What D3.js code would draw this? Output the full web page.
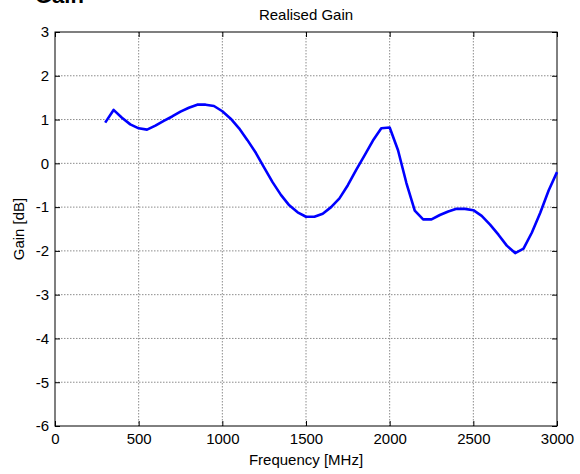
<!DOCTYPE html>
<html>
<head>
<meta charset="utf-8">
<script src="https://cdn.jsdelivr.net/npm/d3@7"></script>
<style>
  body { margin: 0; background: #fff; }
  svg { font-family: "Liberation Sans", Arial, sans-serif; }
  .grid line { stroke: #8c8c8c; stroke-dasharray: 1.5,1.5; stroke-width: 1; }
  .line { fill: none; stroke: #0000ff; stroke-width: 2.6; stroke-linejoin: round; }
</style>
</head>
<body>
<div id="chart"></div>
<script>
// frequency samples (MHz) and realised gain (dB)
var freq = [300, 350, 400, 450, 500, 550, 600, 650, 700, 750, 800, 850, 900, 950,
            1000, 1050, 1100, 1150, 1200, 1250, 1300, 1350, 1400, 1450, 1500, 1550,
            1600, 1650, 1700, 1750, 1800, 1850, 1900, 1950, 2000, 2050, 2100, 2150,
            2200, 2250, 2300, 2350, 2400, 2450, 2500, 2550, 2600, 2650, 2700, 2750,
            2800, 2850, 2900, 2950, 3000]
var gain = [0.93, 1.22, 1.04, 0.89, 0.80, 0.77, 0.86, 0.97, 1.07, 1.18, 1.27, 1.34, 1.34, 1.31,
            1.19, 1.02, 0.80, 0.53, 0.24, -0.10, -0.43, -0.72, -0.96, -1.12, -1.22, -1.22,
            -1.15, -1.00, -0.80, -0.50, -0.15, 0.18, 0.52, 0.80, 0.82, 0.30, -0.45, -1.08,
            -1.28, -1.28, -1.18, -1.10, -1.04, -1.04, -1.07, -1.20, -1.40, -1.63, -1.88, -2.05,
            -1.95, -1.58, -1.13, -0.62, -0.20]
var xTicks = [0, 500, 1000, 1500, 2000, 2500, 3000]
var yTicks = [3, 2, 1, 0, -1, -2, -3, -4, -5, -6]

var W = 580, H = 474
var margin = { top: 32, right: 23, bottom: 48, left: 55 },
    width  = W - margin.left - margin.right,
    height = H - margin.top - margin.bottom

var svg = d3.select('#chart').append('svg')
    .attr('width', W)
    .attr('height', H)

// heading of the figure, cut off by the top edge as in the source
svg.append('text')
   .attr('x', 35)
   .attr('y', 3)
   .attr('font-size', 22)
   .attr('font-weight', 'bold')
   .text('Gain')

var g = svg.append('g')
    .attr('transform', 'translate(' + margin.left + ',' + margin.top + ')')

var x = d3.scaleLinear().domain([0, 3000]).range([0, width])
var y = d3.scaleLinear().domain([-6, 3]).range([height, 0])

// grid
var grid = g.append('g').attr('class', 'grid')
grid.selectAll('.gx').data(xTicks.slice(1, -1)).enter().append('line')
    .attr('x1', function(d) { return x(d) }).attr('x2', function(d) { return x(d) })
    .attr('y1', 0).attr('y2', height)
grid.selectAll('.gy').data(yTicks.slice(1, -1)).enter().append('line')
    .attr('y1', function(d) { return y(d) }).attr('y2', function(d) { return y(d) })
    .attr('x1', 0).attr('x2', width)

// plain labels: no thousands separator, ascii minus
var fmt = function(d) { return String(d) }

// axes, ticks pointing inwards on all four sides
function styleAxis(sel) {
  sel.select('.domain').remove()
  sel.selectAll('.tick line').attr('stroke', '#000')
  sel.selectAll('.tick text').attr('fill', '#000').attr('font-size', 15)
}

g.append('g')
 .attr('transform', 'translate(0,' + height + ')')
 .call(d3.axisBottom(x).tickValues(xTicks).tickFormat(fmt).tickSizeInner(-5).tickSizeOuter(0).tickPadding(7))
 .call(styleAxis)
g.append('g')
 .call(d3.axisTop(x).tickValues(xTicks).tickSizeInner(-5).tickSizeOuter(0).tickFormat(''))
 .call(styleAxis)
g.append('g')
 .call(d3.axisLeft(y).tickValues(yTicks).tickFormat(fmt).tickSizeInner(-5).tickSizeOuter(0).tickPadding(6))
 .call(styleAxis)
g.append('g')
 .attr('transform', 'translate(' + width + ',0)')
 .call(d3.axisRight(y).tickValues(yTicks).tickSizeInner(-5).tickSizeOuter(0).tickFormat(''))
 .call(styleAxis)

g.append('rect')
 .attr('width', width).attr('height', height)
 .attr('fill', 'none').attr('stroke', '#000').attr('stroke-width', 1)

// the gain curve
var pts = freq.map(function(f, i) { return { f: f, v: gain[i] } })
var line = d3.line()
    .x(function(d) { return x(d.f) })
    .y(function(d) { return y(d.v) })
g.append('path').datum(pts).attr('class', 'line').attr('d', line)

// labels
svg.append('text')
   .attr('x', margin.left + width / 2).attr('y', 20)
   .attr('text-anchor', 'middle').attr('font-size', 15)
   .text('Realised Gain')
svg.append('text')
   .attr('x', margin.left + width / 2).attr('y', 465)
   .attr('text-anchor', 'middle').attr('font-size', 15)
   .text('Frequency [MHz]')
svg.append('text')
   .attr('transform', 'translate(24,' + (margin.top + height / 2) + ') rotate(-90)')
   .attr('text-anchor', 'middle').attr('font-size', 15)
   .text('Gain [dB]')
</script>
</body>
</html>
